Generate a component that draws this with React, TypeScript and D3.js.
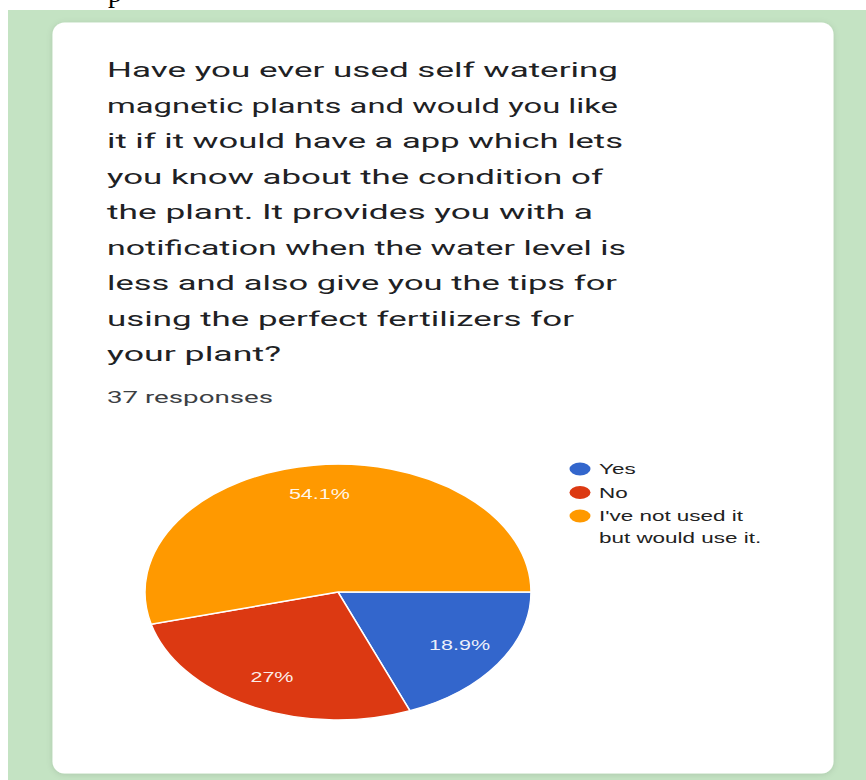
import React, { useLayoutEffect, useRef, useState } from "react";
import * as d3 from "d3";

// ---- data ----
const TITLE_LINES = [
  "Have you ever used self watering",
  "magnetic plants and would you like",
  "it if it would have a app which lets",
  "you know about the condition of",
  "the plant. It provides you with a",
  "notification when the water level is",
  "less and also give you the tips for",
  "using the perfect fertilizers for",
  "your plant?",
];
const RESPONSES_LABEL = "37 responses";
const CATEGORIES = ["Yes", "No", "I've not used it but would use it."];
const LEGEND_LINES = [["Yes"], ["No"], ["I've not used it", "but would use it."]];
const COUNTS = [7, 10, 20];
const COLORS = ["#3366cc", "#dc3912", "#ff9900"];

// ---- layout ----
const W = 866;
const H = 780;
const PIE_CX = 338;
const PIE_CY = 592;
const PIE_RX = 193;
const PIE_RY = 128;
// rendered width of each title line (the reference is a horizontally stretched screenshot)
const TITLE_LINE_WIDTHS = [511, 511, 516, 496, 486, 519, 510, 467, 174];

export default function App() {
  const respRef = useRef<SVGTextElement>(null);
  const legRef = useRef<SVGTextElement>(null);
  const labRef = useRef<SVGTextElement>(null);
  const [sx, setSx] = useState({ resp: 1.5, leg: 1.5, lab: 1.5 });

  useLayoutEffect(() => {
    const m = (r: any, target: number, d: number) => {
      if (!r.current) return d;
      const l = r.current.getComputedTextLength();
      return l > 0 ? target / l : d;
    };
    setSx({
      resp: m(respRef, 166, 1.5),
      leg: m(legRef, 144, 1.5),
      lab: m(labRef, 61, 1.5),
    });
  }, []);

  const total = d3.sum(COUNTS);
  const data = COUNTS.map((v, i) => ({ name: CATEGORIES[i], value: v, color: COLORS[i] }));
  const pie = d3
    .pie<any>()
    .sort(null)
    .value((d: any) => d.value)
    .startAngle(Math.PI / 2)
    .endAngle(Math.PI / 2 + 2 * Math.PI);
  const arcs = pie(data);
  const arc = d3.arc<any>().innerRadius(0).outerRadius(1);
  const labelArc = d3.arc<any>().innerRadius(0.76).outerRadius(0.76);
  const fmt = (v: number) => {
    const s = d3.format(".1f")((v / total) * 100);
    return (s.endsWith(".0") ? s.slice(0, -2) : s) + "%";
  };

  const titleX = 107;
  const titleY0 = 77;
  const titleStep = 35.5;

  const legX = 580;
  const legY0 = 469;
  const legStep = 23.5;
  const legLineStep = 22;

  return (
    <svg
      width={W}
      height={H}
      style={{ position: "absolute", left: 0, top: 0, display: "block", background: "#ffffff" }}
    >
      <defs>
        <filter id="cardShadow" x="-5%" y="-5%" width="110%" height="110%">
          <feDropShadow dx="0" dy="1" stdDeviation="3" floodColor="#000" floodOpacity="0.12" />
        </filter>
      </defs>
      <text x={108} y={2} fontFamily="'Liberation Serif', 'Times New Roman', serif" fontSize={28} fill="#000">
        p
      </text>
      <rect x={8} y={10} width={W - 8} height={H - 10} fill="#c4e3c3" />
      <rect
        x={52.5}
        y={22.5}
        width={781}
        height={751}
        rx={12}
        fill="#ffffff"
        filter="url(#cardShadow)"
      />

      {/* title */}
      <g fontFamily="Roboto, 'Noto Sans', sans-serif" fontSize={20} fill="#202124">
        {TITLE_LINES.map((t, i) => (
          <text
            key={i}
            x={titleX}
            y={titleY0 + i * titleStep}
            textLength={TITLE_LINE_WIDTHS[i]}
            lengthAdjust="spacingAndGlyphs"
          >
            {t}
          </text>
        ))}
      </g>
      <text
        ref={respRef}
        transform={`translate(107,403) scale(${sx.resp},1)`}
        fontFamily="Roboto, sans-serif"
        fontSize={17}
        fill="#3c4043"
      >
        {RESPONSES_LABEL}
      </text>

      {/* pie */}
      <g transform={`translate(${PIE_CX},${PIE_CY}) scale(${PIE_RX},${PIE_RY})`}>
        {arcs.map((a, i) => (
          <path
            key={i}
            d={arc(a) as string}
            fill={a.data.color}
            stroke="#ffffff"
            strokeWidth={1.5}
            vectorEffect="non-scaling-stroke"
          />
        ))}
      </g>
      <g fontFamily="'Liberation Sans', Arial, sans-serif" fontSize={14} fill="#ffffff" fillOpacity={0.92}>
        {arcs.map((a, i) => {
          const [lx, ly] = labelArc.centroid(a);
          return (
            <text
              key={i}
              ref={i === 0 ? labRef : undefined}
              transform={`translate(${PIE_CX + lx * PIE_RX},${PIE_CY + ly * PIE_RY - 2}) scale(${sx.lab},1)`}
              textAnchor="middle"
              dy="0.36em"
            >
              {fmt(a.data.value)}
            </text>
          );
        })}
      </g>

      {/* legend */}
      <g fontFamily="'Liberation Sans', Arial, sans-serif" fontSize={15} fill="#222222">
        {LEGEND_LINES.map((lines, i) => {
          const cy = legY0 + i * legStep;
          return (
            <g key={i}>
              <ellipse cx={legX} cy={cy} rx={10.5} ry={6.5} fill={COLORS[i]} />
              {lines.map((ln, j) => (
                <text
                  key={j}
                  ref={i === 2 && j === 0 ? legRef : undefined}
                  transform={`translate(599,${cy + j * legLineStep}) scale(${sx.leg},1)`}
                  dy="0.36em"
                >
                  {ln}
                </text>
              ))}
            </g>
          );
        })}
      </g>
    </svg>
  );
}
